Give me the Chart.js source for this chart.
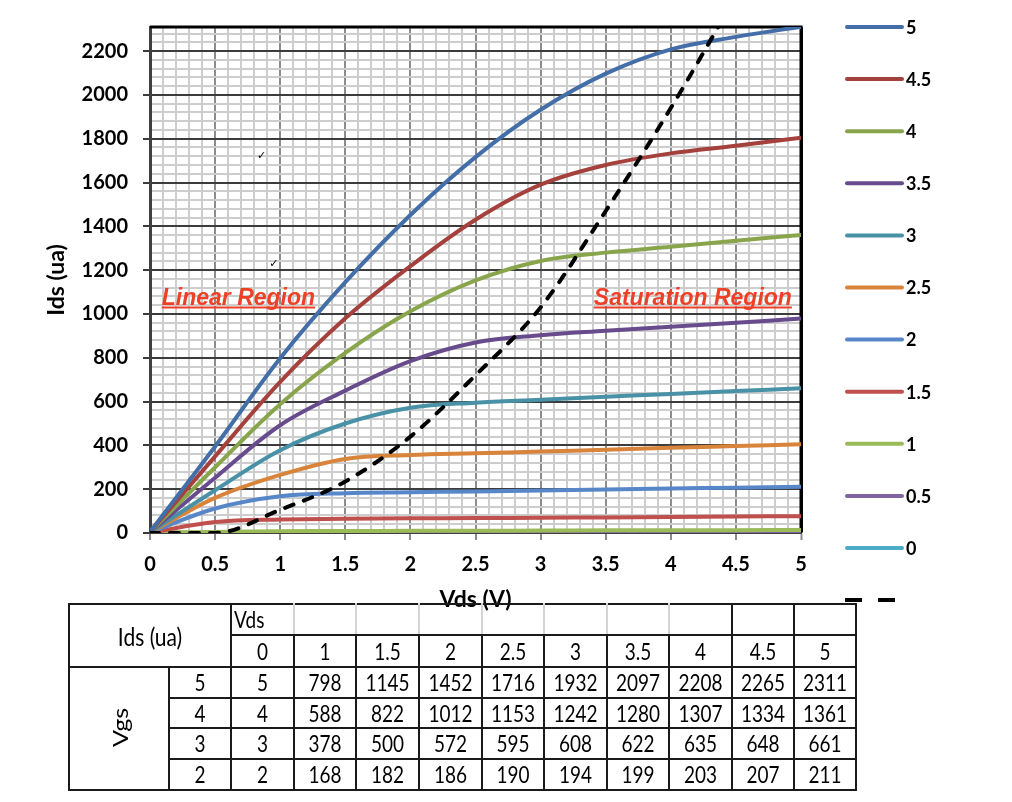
<!DOCTYPE html>
<html>
<head>
<meta charset="utf-8">
<script src="https://cdn.jsdelivr.net/npm/chart.js@4.4.1/dist/chart.umd.min.js"></script>
<style>
  body { margin: 0; background: #fff; }
  #wrap { position: relative; width: 1012px; height: 802px; }
  #chart { position: absolute; left: 0; top: 0; }
  #ids-table {
    position: absolute; left: 68px; top: 603px;
    border-collapse: collapse; table-layout: fixed; width: 787px;
    font-family: Lato, "Open Sans", sans-serif; font-size: 19px; color: #000;
  }
  #ids-table td {
    border: 2px solid #1a1a1a; text-align: center; vertical-align: middle;
    padding: 0; line-height: 1; overflow: hidden;
  }
  #ids-table td span { display: inline-block; transform: scaleY(1.2); }
  #ids-table td.gl { border-left-color: #d4d4d4; }
  #ids-table td.gr { border-right-color: #d4d4d4; }
  #ids-table td.vds { text-align: left; padding-left: 2px; }
  #ids-table td.big { font-size: 21px; }
  #ids-table td .rot { writing-mode: vertical-rl; transform: rotate(180deg) scaleY(1.2); font-size: 21px; }
</style>
</head>
<body>
<div id="wrap">
  <canvas id="chart" width="1012" height="802"></canvas>
  <table id="ids-table"></table>
</div>
<script>
// drain voltage points (V)
const vds = [0, 0.5, 1, 1.5, 2, 2.5, 3, 3.5, 4, 4.5, 5];

// drain current (ua) per gate voltage
const ids5  = [5, 395, 798, 1145, 1452, 1716, 1932, 2097, 2208, 2265, 2311];
const ids45 = [4.5, 350, 690, 980, 1218, 1430, 1590, 1680, 1733, 1768, 1805];
const ids4  = [4, 300, 588, 822, 1012, 1153, 1242, 1280, 1307, 1334, 1361];
const ids35 = [3.5, 252, 492, 650, 785, 870, 903, 923, 942, 960, 979];
const ids3  = [3, 195, 378, 500, 572, 595, 608, 622, 635, 648, 661];
const ids25 = [2.5, 160, 265, 338, 356, 364, 372, 380, 389, 397, 405];
const ids2  = [2, 112, 168, 182, 186, 190, 194, 199, 203, 207, 211];
const ids15 = [1.5, 50, 62, 65, 67, 68, 70, 71, 73, 75, 77];
const ids1  = [1, 5, 8, 9, 10, 10, 11, 12, 12, 13, 14];
const ids05 = [0.5, 1, 1, 1, 1, 1, 2, 2, 2, 2, 2];
const ids0  = [0, 0, 0, 0, 0, 0, 0, 0, 0, 0, 0];

const vgsLabels = ['5', '4.5', '4', '3.5', '3', '2.5', '2', '1.5', '1', '0.5', '0'];
const vgsSeries = [ids5, ids45, ids4, ids35, ids3, ids25, ids2, ids15, ids1, ids05, ids0];
const vgsColors = ['#436ea8', '#a5413d', '#89a54c', '#684b8c', '#4891a6', '#d9843b',
                   '#5887c9', '#c0504d', '#9bbb59', '#8064a2', '#4bacc6'];

// saturation boundary (dashed)
const boundaryVds = [0, 0.5, 1, 1.5, 2, 2.5, 3, 3.5, 4, 4.5];
const boundaryIds = [0, 0, 106, 235, 440, 720, 1030, 1470, 1940, 2450];

// tick labels
const xTickLabels = ['0', '0.5', '1', '1.5', '2', '2.5', '3', '3.5', '4', '4.5', '5'];
const yTickLabels = ['0', '200', '400', '600', '800', '1000', '1200', '1400', '1600', '1800', '2000', '2200'];

// table below the chart
const tableVds = [0, 1, 1.5, 2, 2.5, 3, 3.5, 4, 4.5, 5];
const tableVgs = ['5', '4', '3', '2'];

const Y_MAX = 2310;
const isHalf = v => Math.abs(v * 2 - Math.round(v * 2)) < 1e-6;
const isMajorY = v => v % 200 === 0;

const datasets = vgsSeries.map((arr, i) => ({
    label: vgsLabels[i],
    data: vds.map((x, j) => ({ x: x, y: arr[j] })),
    borderColor: vgsColors[i],
    backgroundColor: vgsColors[i],
    borderWidth: 4,
    pointRadius: 0,
    tension: 0.35,
    fill: false,
    order: 1
}));
datasets.push({
    label: '',
    data: boundaryVds.map((x, j) => ({ x: x, y: boundaryIds[j] })),
    borderColor: '#000',
    backgroundColor: '#000',
    borderWidth: 4,
    borderDash: [9, 11],
    borderCapStyle: 'round',
    pointRadius: 0,
    cubicInterpolationMode: 'monotone',
    fill: false,
    order: 0
});

// top + right frame of the plot area
const plotFrame = {
    id: 'plotFrame',
    beforeDatasetsDraw(chart) {
        const { ctx, chartArea: a } = chart;
        ctx.save();
        ctx.strokeStyle = '#000';
        ctx.lineWidth = 3;
        ctx.beginPath();
        ctx.moveTo(a.left, a.top);
        ctx.lineTo(a.right, a.top);
        ctx.lineTo(a.right, a.bottom);
        ctx.stroke();
        ctx.restore();
    }
};

// region captions and the two stray check marks
const regionText = {
    id: 'regionText',
    afterDatasetsDraw(chart) {
        const ctx = chart.ctx;
        const xs = chart.scales.x, ys = chart.scales.y;
        const labels = [
            { text: 'Linear Region', x: 0.09, y: 1041, align: 'left' },
            { text: 'Saturation Region', x: 4.93, y: 1041, align: 'right' }
        ];
        ctx.save();
        ctx.font = 'italic bold 23px "Liberation Sans", Arial, sans-serif';
        ctx.fillStyle = '#ee4027';
        ctx.strokeStyle = '#ee4027';
        ctx.textBaseline = 'alphabetic';
        labels.forEach(l => {
            const px = xs.getPixelForValue(l.x);
            const py = ys.getPixelForValue(l.y);
            const w = ctx.measureText(l.text).width;
            const x0 = l.align === 'left' ? px : px - w;
            ctx.textAlign = 'left';
            ctx.fillText(l.text, x0, py);
            ctx.lineWidth = 2;
            ctx.beginPath();
            ctx.moveTo(x0, py + 2.5);
            ctx.lineTo(x0 + w, py + 2.5);
            ctx.stroke();
        });
        ctx.fillStyle = '#000';
        ctx.font = '11px "DejaVu Sans"';
        ctx.textAlign = 'center';
        ctx.textBaseline = 'middle';
        [[0.858, 1721], [0.952, 1229]].forEach(p => {
            ctx.fillText('\u2713', xs.getPixelForValue(p[0]), ys.getPixelForValue(p[1]));
        });
        ctx.restore();
    }
};

// vertical legend on the right
const sideLegend = {
    id: 'sideLegend',
    afterDraw(chart) {
        const ctx = chart.ctx;
        ctx.save();
        chart.data.datasets.forEach((ds, i) => {
            const y = 27 + i * 52.1;
            ctx.beginPath();
            ctx.strokeStyle = ds.borderColor;
            ctx.lineWidth = 4;
            if (ds.borderDash) {
                ctx.lineCap = 'butt';
                ctx.setLineDash([17, 16]);
                ctx.moveTo(845, y);
                ctx.lineTo(895, y);
            } else {
                ctx.lineCap = 'round';
                ctx.setLineDash([]);
                ctx.moveTo(847, y);
                ctx.lineTo(902, y);
            }
            ctx.stroke();
            ctx.setLineDash([]);
            if (ds.label) {
                ctx.fillStyle = '#000';
                ctx.font = 'bold 18px Lato, sans-serif';
                ctx.textAlign = 'left';
                ctx.textBaseline = 'middle';
                ctx.fillText(ds.label, 906, y + 1);
            }
        });
        ctx.restore();
    }
};

const tickFont = { family: 'Lato', weight: 'bold', size: 20 };
const titleFont = { family: 'Lato', weight: 'bold', size: 23 };

new Chart(document.getElementById('chart'), {
    type: 'line',
    data: { datasets: datasets },
    options: {
        responsive: false,
        animation: false,
        layout: { padding: { top: 27, right: 211, bottom: 189, left: 0 } },
        plugins: { legend: { display: false }, tooltip: { enabled: false } },
        scales: {
            x: {
                type: 'linear', min: 0, max: 5,
                afterFit: s => { s.height = 80; },
                ticks: {
                    stepSize: 0.1, autoSkip: false, maxRotation: 0, minRotation: 0,
                    padding: 13, color: '#000', font: tickFont,
                    callback: v => isHalf(v) ? xTickLabels[Math.round(v * 2)] : ''
                },
                grid: {
                    lineWidth: c => c.tick && Math.abs(c.tick.value - 5) < 1e-6 ? 3 : 2,
                    color: c => {
                        const v = c.tick ? c.tick.value : 0;
                        if (Math.abs(v - 5) < 1e-6) return '#000';
                        return isHalf(v) ? '#8c8c8c' : '#cdcdcd';
                    },
                    tickLength: 7,
                    tickWidth: 2,
                    tickColor: c => c.tick && isHalf(c.tick.value) ? '#8c8c8c' : 'rgba(0,0,0,0)'
                },
                border: { color: '#404040', width: 2 },
                title: { display: true, text: 'Vds (V)', color: '#000', font: titleFont, padding: 0 }
            },
            y: {
                type: 'linear', min: 0, max: Y_MAX,
                afterFit: s => { s.width = 150; },
                ticks: {
                    stepSize: 40, autoSkip: false, includeBounds: false,
                    padding: 15, color: '#000', font: tickFont,
                    callback: v => isMajorY(v) ? yTickLabels[v / 200] : ''
                },
                grid: {
                    lineWidth: 2,
                    color: c => c.tick && isMajorY(c.tick.value) ? '#3c3c3c' : '#cdcdcd',
                    tickLength: 7,
                    tickWidth: 2,
                    tickColor: c => c.tick && isMajorY(c.tick.value) ? '#3c3c3c' : 'rgba(0,0,0,0)'
                },
                border: { color: '#404040', width: 3 },
                title: { display: true, text: 'Ids (ua)', color: '#000', font: titleFont, padding: { top: 43, bottom: 0 } }
            }
        }
    },
    plugins: [plotFrame, regionText, sideLegend]
});

// build the value table from the same series
function buildTable() {
    const table = document.getElementById('ids-table');
    const colWidths = [100, 62, 63, 62, 63, 63, 62, 63, 62, 63, 62, 62];
    const rowHeights = [31, 32, 31, 30, 31, 31];
    let html = '<colgroup>' + colWidths.map(w => `<col style="width:${w}px">`).join('') + '</colgroup>';

    // header row 1
    html += `<tr style="height:${rowHeights[0]}px"><td class="big" colspan="2" rowspan="2"><span>Ids (ua)</span></td>`;
    tableVds.forEach((v, i) => {
        const cls = [];
        if (i === 0) cls.push('vds');
        if (i >= 1 && i <= 7) cls.push('gl');
        if (i <= 6) cls.push('gr');
        html += `<td class="${cls.join(' ')}">${i === 0 ? '<span>Vds</span>' : ''}</td>`;
    });
    html += '</tr>';

    // header row 2
    html += `<tr style="height:${rowHeights[1]}px">` +
        tableVds.map(v => `<td><span>${v}</span></td>`).join('') + '</tr>';

    tableVgs.forEach((g, r) => {
        const series = vgsSeries[vgsLabels.indexOf(g)];
        html += `<tr style="height:${rowHeights[r + 2]}px">`;
        if (r === 0) html += `<td rowspan="${tableVgs.length}"><span class="rot">Vgs</span></td>`;
        html += `<td><span>${g}</span></td>`;
        tableVds.forEach(v => {
            html += `<td><span>${series[vds.indexOf(v)]}</span></td>`;
        });
        html += '</tr>';
    });
    table.innerHTML = html;
}
buildTable();
</script>
</body>
</html>
